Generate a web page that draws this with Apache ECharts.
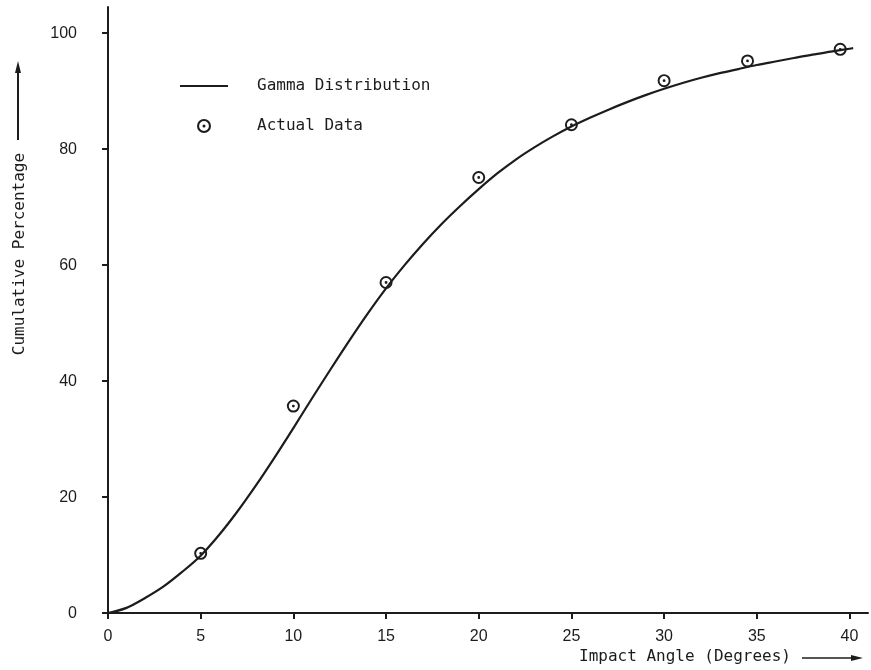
<!DOCTYPE html>
<html>
<head>
<meta charset="utf-8">
<script src="https://cdn.jsdelivr.net/npm/echarts@6/dist/echarts.min.js"></script>
<style>html,body{margin:0;padding:0;background:#fff;}#chart{width:871px;height:670px;}</style>
</head>
<body>
<div id="chart"></div>
<script>
// Gamma distribution fitted curve (impact angle in degrees -> cumulative %)
var curveX = [0,1,2,3,4,5,6,7,8,9,10,11,12,13,14,15,16,17,18,19,20,21,22,23,24,25,26,27,28,29,30,31,32,33,34,35,36,37,38,39,40,40.2];
var curveY = [0,0.9,2.6,4.6,7.1,9.9,13.5,17.6,22.1,26.9,31.9,37.0,42.0,46.9,51.6,56.0,60.0,63.7,67.1,70.2,73.1,75.8,78.2,80.3,82.2,83.9,85.4,86.8,88.1,89.3,90.4,91.4,92.3,93.1,93.8,94.5,95.1,95.7,96.3,96.8,97.3,97.4];
// Actual data points
var actualX = [5,10,15,20,25,30,34.5,39.5];
var actualY = [10.3,35.7,57.0,75.1,84.2,91.8,95.2,97.2];
// Ticks
var xTicks = [0,5,10,15,20,25,30,35,40];
var yTicks = [0,20,40,60,80,100];

var ink = '#1c1c1c';
var mono = '"DejaVu Sans Mono", "Liberation Mono", monospace';
var sans = '"Liberation Sans", Arial, sans-serif';
var ringSymbol = 'path://M0,-6 A6,6 0 1,1 0,6 A6,6 0 1,1 0,-6 Z M0,-4.2 A4.2,4.2 0 1,0 0,4.2 A4.2,4.2 0 1,0 0,-4.2 Z M0,-1.3 A1.3,1.3 0 1,1 0,1.3 A1.3,1.3 0 1,1 0,-1.3 Z';
var lineIcon = 'path://M0,0 L48,0 L48,2 L0,2 Z';

var chart = echarts.init(document.getElementById('chart'), null, {renderer: 'canvas'});
chart.setOption({
  animation: false,
  backgroundColor: '#ffffff',
  grid: {left: 108, top: 7, width: 760, height: 609, containLabel: false},
  legend: {
    orient: 'vertical', left: 175, top: 73,
    itemWidth: 48, itemHeight: 14, itemGap: 24,
    textStyle: {fontFamily: mono, fontSize: 16, color: ink, padding: [0, 0, 0, 24]},
    data: [{name: 'Gamma Distribution', icon: lineIcon}, {name: 'Actual Data', icon: ringSymbol}]
  },
  xAxis: {
    type: 'value', min: 0, max: 41,
    name: 'Impact Angle (Degrees)', nameLocation: 'middle', nameGap: 34,
    nameTextStyle: {fontFamily: mono, fontSize: 16, color: ink, padding: [0, 0, 0, 394]},
    axisLine: {show: true, lineStyle: {color: ink, width: 2}},
    axisTick: {show: true, length: 6, lineStyle: {color: ink, width: 2}, customValues: xTicks},
    axisLabel: {fontFamily: sans, fontSize: 16, color: ink, margin: 15, customValues: xTicks},
    splitLine: {show: false}
  },
  yAxis: {
    type: 'value', min: 0, max: 104.5,
    name: 'Cumulative Percentage', nameLocation: 'middle', nameGap: 80,
    nameTextStyle: {fontFamily: mono, fontSize: 16, color: ink, padding: [0, 0, 0, 112]},
    axisLine: {show: true, lineStyle: {color: ink, width: 2}},
    axisTick: {show: true, length: 6, lineStyle: {color: ink, width: 2}, customValues: yTicks},
    axisLabel: {fontFamily: sans, fontSize: 16, color: ink, margin: 31, customValues: yTicks},
    splitLine: {show: false}
  },
  series: [
    {
      name: 'Gamma Distribution', type: 'line', smooth: 0.3, symbol: 'none',
      lineStyle: {color: ink, width: 2.2},
      itemStyle: {color: ink},
      data: curveX.map(function (x, i) { return [x, curveY[i]]; }),
      z: 2
    },
    {
      name: 'Actual Data', type: 'scatter', symbol: ringSymbol, symbolSize: 13, symbolKeepAspect: true,
      itemStyle: {color: ink, opacity: 1},
      data: actualX.map(function (x, i) { return [x, actualY[i]]; }),
      z: 3
    }
  ],
  graphic: [
    {type: 'line', shape: {x1: 18, y1: 140, x2: 18, y2: 70}, style: {stroke: ink, lineWidth: 2}},
    {type: 'polygon', shape: {points: [[18, 61], [15, 73], [21, 73]]}, style: {fill: ink}},
    {type: 'line', shape: {x1: 802, y1: 658, x2: 854, y2: 658}, style: {stroke: ink, lineWidth: 1.5}},
    {type: 'polygon', shape: {points: [[863, 658], [851, 655], [851, 661]]}, style: {fill: ink}}
  ]
});
</script>
</body>
</html>
